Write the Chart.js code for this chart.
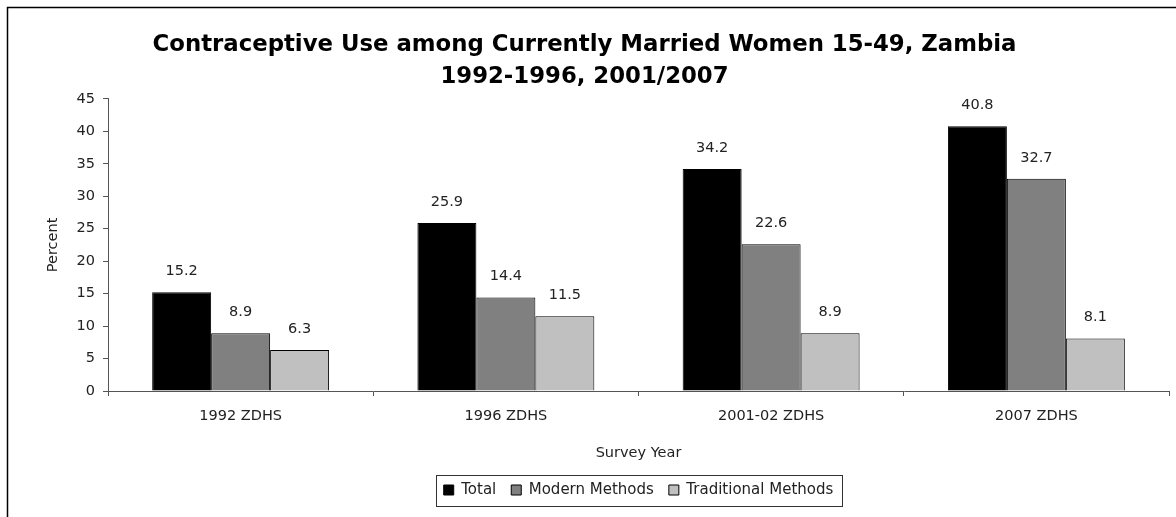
<!DOCTYPE html>
<html>
<head>
<meta charset="utf-8">
<script src="https://cdn.jsdelivr.net/npm/chart.js@4/dist/chart.umd.min.js"></script>
<style>
  html, body { margin: 0; padding: 0; background: #fff; }
  #wrap { position: relative; width: 1176px; height: 517px; }
</style>
</head>
<body>
<div id="wrap"><canvas id="chart" width="1176" height="517"></canvas></div>
<script>
// datos del gráfico
const categories = ["1992 ZDHS", "1996 ZDHS", "2001-02 ZDHS", "2007 ZDHS"];
const totalValues = [15.2, 25.9, 34.2, 40.8];
const modernValues = [8.9, 14.4, 22.6, 32.7];
const traditionalValues = [6.3, 11.5, 8.9, 8.1];
const yTicks = [0, 5, 10, 15, 20, 25, 30, 35, 40, 45];

const FONT = "'DejaVu Sans', sans-serif";
const AXIS = "#555";

// marco exterior, leyenda centrada bajo el área de trazado y su recuadro
const framePlugin = {
  id: "frame",
  afterLayout(chart) {
    const l = chart.legend, a = chart.chartArea;
    const shift = (a.left + a.right) / 2 - (l.left + l.right) / 2;
    l.left += shift;
    l.right += shift;
    l.adjustHitBoxes();
  },
  beforeDraw(chart) {
    const c = chart.ctx;
    c.save();
    c.fillStyle = "#fff";
    c.fillRect(0, 0, chart.width, chart.height);
    c.strokeStyle = "#000";
    c.lineWidth = 1.5;
    c.strokeRect(7.5, 7.5, 1400, 700);
    c.restore();
  },
  afterDraw(chart) {
    const boxes = chart.legend.legendHitBoxes;
    if (!boxes || !boxes.length) return;
    const first = boxes[0], last = boxes[boxes.length - 1];
    const c = chart.ctx;
    c.save();
    c.strokeStyle = "#333";
    c.lineWidth = 1;
    const x0 = Math.round(first.left - 8) + 0.5;
    const x1 = Math.round(last.left + last.width + 9) + 0.5;
    c.strokeRect(x0, 475.5, x1 - x0, 31);
    c.restore();
  }
};

// etiquetas de valor encima de cada barra
const valueLabels = {
  id: "valueLabels",
  afterDatasetsDraw(chart) {
    const c = chart.ctx;
    c.save();
    c.font = "14.5px " + FONT;
    c.fillStyle = "#222";
    c.textAlign = "center";
    c.textBaseline = "middle";
    chart.data.datasets.forEach((ds, i) => {
      chart.getDatasetMeta(i).data.forEach((bar, j) => {
        c.fillText(ds.data[j].toFixed(1), bar.x, bar.y - 21);
      });
    });
    c.restore();
  }
};

new Chart(document.getElementById("chart"), {
  type: "bar",
  data: {
    labels: categories,
    datasets: [
      { label: "Total", data: totalValues, backgroundColor: "#000000" },
      { label: "Modern Methods", data: modernValues, backgroundColor: "#808080" },
      { label: "Traditional Methods", data: traditionalValues, backgroundColor: "#c0c0c0" }
    ].map(d => Object.assign(d, {
      borderColor: "#000", borderWidth: 1, borderSkipped: "bottom",
      categoryPercentage: 0.667, barPercentage: 1
    }))
  },
  options: {
    responsive: false,
    animation: false,
    layout: { padding: { left: 0, right: 7, top: 0, bottom: 9.5 } },
    plugins: {
      title: {
        display: true,
        text: ["Contraceptive Use among Currently Married Women 15-49, Zambia", "1992-1996, 2001/2007"],
        color: "#000",
        font: { family: FONT, size: 22.8, weight: "bold", lineHeight: 1.41 },
        padding: { top: 29, bottom: 5.6 }
      },
      legend: {
        position: "bottom",
        labels: {
          color: "#222",
          font: { family: FONT, size: 15 },
          boxWidth: 10, boxHeight: 10, padding: 15
        }
      },
      tooltip: { enabled: false }
    },
    scales: {
      x: {
        grid: { display: true, offset: true, drawOnChartArea: false, tickLength: 5, color: AXIS },
        border: { color: AXIS },
        ticks: { color: "#222", font: { family: FONT, size: 14.5 }, padding: 12, maxRotation: 0 },
        title: { display: true, text: "Survey Year", color: "#222", font: { family: FONT, size: 14.5 }, padding: { top: 0, bottom: 6 } },
        afterFit: s => { s.height = 76.5; }
      },
      y: {
        min: 0, max: 45,
        afterBuildTicks: s => { s.ticks = yTicks.map(v => ({ value: v })); },
        grid: { display: true, drawOnChartArea: false, tickLength: 5, color: AXIS },
        border: { color: AXIS },
        ticks: { color: "#222", font: { family: FONT, size: 14.5 }, padding: 8 },
        title: { display: true, text: "Percent", color: "#222", font: { family: FONT, size: 14.5 }, padding: { top: 45, bottom: 0 } },
        afterFit: s => { s.width = 108; }
      }
    }
  },
  plugins: [framePlugin, valueLabels]
});
</script>
</body>
</html>
